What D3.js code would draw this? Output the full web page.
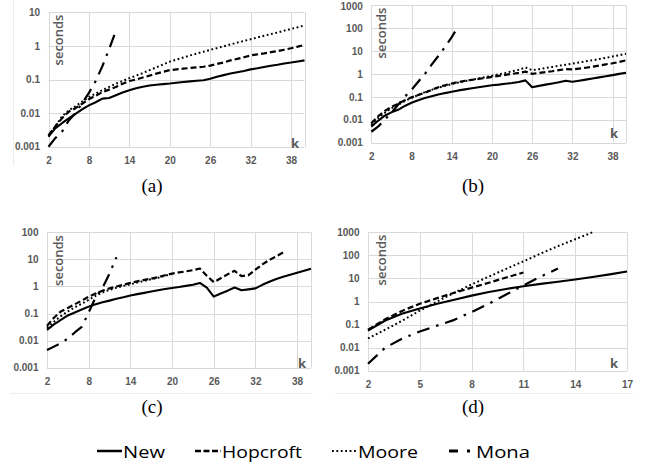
<!DOCTYPE html>
<html><head><meta charset="utf-8">
<script src="https://cdn.jsdelivr.net/npm/d3@7"></script>
<style>body{margin:0;background:#fff}svg{display:block}</style>
</head><body>
<svg id="c" width="646" height="463"></svg>
<script>
// ---------- DATA ----------
const k2to40 = [2,3,4,5,6,7,8,9,10,11,12,13,14,15,16,17,18,19,20,21,22,23,24,25,26,27,28,29,30,31,32,33,34,35,36,37,38,39,40];
const k2to36 = [2,3,4,5,6,7,8,9,10,11,12,13,14,15,16,17,18,19,20,21,22,23,24,25,26,27,28,29,30,31,32,33,34,35,36];
const k2to20 = [2,3,4,5,6,7,8,9,10,11,12,13,14,15,16,17,18,19,20];
const k2to17 = [2,3,4,5,6,7,8,9,10,11,12,13,14,15,16,17];
const k2to15 = [2,3,4,5,6,7,8,9,10,11,12,13,14,15];
const k2to13 = [2,3,4,5,6,7,8,9,10,11,12,13];
const k2to12 = [2,3,4,5,6,7,8,9,10,11,12];
const k2to11 = [2,3,4,5,6,7,8,9,10,11];

// (a)
const aNew   = [0.002,0.0035,0.005,0.007,0.0095,0.013,0.017,0.021,0.027,0.028,0.034,0.041,0.048,0.055,0.061,0.066,0.07,0.073,0.076,0.08,0.084,0.088,0.092,0.095,0.105,0.12,0.135,0.15,0.165,0.18,0.2,0.215,0.235,0.255,0.275,0.3,0.32,0.345,0.37];
const aHop   = [0.0022,0.004,0.007,0.011,0.014,0.019,0.026,0.033,0.042,0.05,0.06,0.075,0.09,0.1,0.115,0.13,0.15,0.17,0.19,0.2,0.21,0.22,0.23,0.24,0.26,0.29,0.32,0.37,0.41,0.46,0.52,0.56,0.6,0.65,0.7,0.77,0.85,0.95,1.08];
const aMoore = [0.002,0.004,0.008,0.012,0.016,0.022,0.03,0.038,0.048,0.06,0.075,0.09,0.11,0.13,0.155,0.19,0.23,0.28,0.34,0.39,0.45,0.52,0.59,0.67,0.76,0.86,0.97,1.1,1.25,1.4,1.58,1.78,2.0,2.25,2.5,2.85,3.2,3.6,4.1];
const aMona  = [0.001,0.0018,0.0028,0.006,0.01,0.02,0.04,0.09,0.25,0.8,2.8];
// (b)
const bNew   = [0.005,0.009,0.015,0.021,0.027,0.04,0.055,0.07,0.088,0.105,0.125,0.145,0.165,0.19,0.21,0.235,0.26,0.29,0.32,0.34,0.37,0.4,0.44,0.52,0.26,0.3,0.34,0.38,0.43,0.5,0.45,0.5,0.56,0.63,0.7,0.78,0.88,1.0,1.12];
const bHop   = [0.007,0.014,0.024,0.036,0.05,0.07,0.095,0.12,0.15,0.2,0.26,0.32,0.38,0.44,0.5,0.55,0.6,0.66,0.74,0.82,0.9,1.0,1.1,1.25,1.0,1.1,1.2,1.3,1.45,1.6,1.55,1.7,1.85,2.05,2.3,2.6,2.9,3.3,3.9];
const bMoore = [0.006,0.012,0.02,0.032,0.045,0.065,0.09,0.12,0.16,0.2,0.25,0.3,0.36,0.42,0.48,0.55,0.63,0.72,0.82,0.95,1.1,1.3,1.5,1.9,1.45,1.6,1.8,2.0,2.25,2.5,2.8,3.1,3.5,3.9,4.4,5.0,5.7,6.5,7.5];
const bMona  = [0.003,0.005,0.01,0.02,0.045,0.1,0.2,0.45,1.0,2.5,6,15,40,120];
// (c)
const cNew   = [0.025,0.04,0.058,0.085,0.11,0.14,0.18,0.22,0.26,0.3,0.35,0.4,0.46,0.52,0.58,0.65,0.72,0.8,0.88,0.95,1.05,1.15,1.35,0.9,0.42,0.55,0.7,0.92,0.72,0.78,0.85,1.15,1.5,1.9,2.3,2.7,3.2,3.8,4.5];
const cHop   = [0.035,0.07,0.12,0.16,0.22,0.3,0.42,0.55,0.7,0.85,1.0,1.15,1.35,1.55,1.75,1.95,2.2,2.6,3.0,3.3,3.6,4.0,4.6,2.5,1.45,2.0,2.8,3.8,2.4,2.6,4.2,6.5,9.5,13,18];
const cMoore = [0.03,0.05,0.08,0.12,0.17,0.23,0.32,0.45,0.6,0.75,0.9,1.05,1.2,1.4,1.6,1.85,2.1,2.5,2.9];
const cMona  = [0.0045,0.006,0.008,0.012,0.02,0.032,0.11,0.4,0.9,3,12];
// (d)
const dNew   = [0.055,0.15,0.3,0.5,0.8,1.2,1.8,2.6,3.5,4.6,5.8,7.2,9,11.5,15,20];
const dHop   = [0.06,0.17,0.4,0.8,1.4,2.4,4,6.5,11,18];
const dMoore = [0.025,0.06,0.15,0.4,1.0,2.4,5.5,12,26,55,120,250,500,1000];
const dMona  = [0.002,0.01,0.025,0.05,0.09,0.16,0.35,0.8,2,5,12,27];

// tick values
const xTicks40 = [2,8,14,20,26,32,38];
const xTicks17 = [2,5,8,11,14,17];
const yTicksA = [0.001,0.01,0.1,1,10];
const yTicksB = [0.001,0.01,0.1,1,10,100,1000];
const yTicksC = [0.001,0.01,0.1,1,10,100];
const yTicksD = [0.001,0.01,0.1,1,10,100,1000];

const seriesNames = ["New","Hopcroft","Moore","Mona"];
const captions = ["(a)","(b)","(c)","(d)"];

// ---------- STYLE ----------
const styles = {
  New:      {dash:null,            w:2.1},
  Hopcroft: {dash:"6,3",           w:2.2},
  Moore:    {dash:"1.8,2.6",       w:2.0},
  Mona:     {dash:"13,7,2.5,7",    w:2.2}
};
const GRID = "#d9d9d9", TXT = "#595959";

const panels = [
  {left:48.5, right:304.5, top:12.3, bottom:146.7, xDom:[2,40], yDom:[0.001,10], xTicks:xTicks40, yTicks:yTicksA,
   series:[[k2to40,aNew],[k2to40,aHop],[k2to40,aMoore],[k2to12,aMona]],
   sec:[63,40], kl:[295,148], cap:[152,191.5]},
  {left:371.3, right:626, top:5, bottom:142.7, xDom:[2,40], yDom:[0.001,1000], xTicks:xTicks40, yTicks:yTicksB,
   series:[[k2to40,bNew],[k2to40,bHop],[k2to40,bMoore],[k2to15,bMona]],
   sec:[386,33], kl:[614,138.3], cap:[473,191.5]},
  {left:47, right:311, top:232.3, bottom:367.7, xDom:[2,40], yDom:[0.001,100], xTicks:xTicks40, yTicks:yTicksC,
   series:[[k2to40,cNew],[k2to36,cHop],[k2to20,cMoore],[k2to12,cMona]],
   sec:[63.3,260.5], kl:[302,367.7], cap:[152,413]},
  {left:368, right:627, top:232.3, bottom:370.7, xDom:[2,17], yDom:[0.001,1000], xTicks:xTicks17, yTicks:yTicksD,
   series:[[k2to17,dNew],[k2to11,dHop],[k2to15,dMoore],[k2to13,dMona]],
   sec:[386,260], kl:[614,367.7], cap:[473,413]}
];

const svg = d3.select("#c");

// faint chart-area borders
svg.append("line").attr("x1",13.5).attr("x2",13.5).attr("y1",0).attr("y2",166).attr("stroke","#ececec");
svg.append("line").attr("x1",10).attr("x2",312).attr("y1",393.5).attr("y2",393.5).attr("stroke","#ececec");
svg.append("line").attr("x1",335).attr("x2",633).attr("y1",393.5).attr("y2",393.5).attr("stroke","#ececec");

panels.forEach((p,pi) => {
  const x = d3.scaleLinear().domain(p.xDom).range([p.left,p.right]);
  const y = d3.scaleLog().domain(p.yDom).range([p.bottom,p.top]);
  const g = svg.append("g");

  g.selectAll(".hg").data(p.yTicks).join("line")
    .attr("x1",p.left).attr("x2",p.right)
    .attr("y1",d=>Math.round(y(d))+0.5).attr("y2",d=>Math.round(y(d))+0.5)
    .attr("stroke",GRID).attr("stroke-width",1);
  const vx = p.xTicks.slice(1);
  if (vx[vx.length-1] !== p.xDom[1]) vx.push(p.xDom[1]);
  g.selectAll(".vg").data(vx).join("line")
    .attr("x1",d=>Math.round(x(d))+0.5).attr("x2",d=>Math.round(x(d))+0.5)
    .attr("y1",p.top).attr("y2",p.bottom)
    .attr("stroke",GRID).attr("stroke-width",1);
  g.append("line").attr("x1",Math.round(p.left)+0.5).attr("x2",Math.round(p.left)+0.5)
    .attr("y1",p.top).attr("y2",p.bottom).attr("stroke",GRID);

  const ya = g.append("g").attr("transform",`translate(${p.left},0)`)
    .call(d3.axisLeft(y).tickValues(p.yTicks).tickFormat(d=>String(d)).tickSize(0).tickPadding(8.5));
  const xa = g.append("g").attr("transform",`translate(0,${p.bottom})`)
    .call(d3.axisBottom(x).tickValues(p.xTicks).tickFormat(d=>String(d)).tickSize(0).tickPadding(10));
  [ya,xa].forEach(a=>{
    a.select(".domain").remove();
    a.selectAll("text").attr("fill",TXT).style("font-family","'Liberation Sans', Arial, sans-serif")
      .style("font-weight","bold").style("font-size","10px");
  });
  // keep top-most label inside the picture
  ya.selectAll(".tick").filter(d=>y(d)<10).select("text").attr("dy","0.42em");

  g.append("text").attr("transform",`translate(${p.sec[0]},${p.sec[1]}) rotate(-90)`)
    .attr("text-anchor","middle").attr("fill",TXT)
    .style("font-family","'Open Sans', sans-serif").style("font-size","13px").style("font-weight","600")
    .text("seconds");
  g.append("text").attr("x",p.kl[0]).attr("y",p.kl[1]).attr("text-anchor","middle").attr("fill",TXT)
    .style("font-family","'Open Sans', sans-serif").style("font-size","13px").style("font-weight","bold")
    .text("k");

  const line = d3.line().x(d=>x(d[0])).y(d=>y(d[1]));
  p.series.forEach((s,si) => {
    const st = styles[seriesNames[si]];
    g.append("path").datum(d3.zip(s[0],s[1]))
      .attr("d",line).attr("fill","none").attr("stroke","#000")
      .attr("stroke-width",st.w).attr("stroke-linejoin","round")
      .attr("stroke-dasharray",st.dash);
  });

  svg.append("text").attr("x",p.cap[0]).attr("y",p.cap[1]).attr("text-anchor","middle")
    .style("font-family","'Liberation Serif','Times New Roman',serif").style("font-size","19px")
    .text(captions[pi]);
});

// legend
const legend = [
  {x1:97, x2:122, tx:123, tl:42, dash:null, w:2.5},
  {x1:195, x2:221, tx:222, tl:80, dash:"6,2.5", w:2.5},
  {x1:332, x2:357, tx:358, tl:60, dash:"1.8,2.6", w:2.2},
  {x1:449, x2:472, tx:476, tl:54, dash:"9,9,3,20", w:2.8}
];
legend.forEach((l,i)=>{
  svg.append("line").attr("x1",l.x1).attr("x2",l.x2).attr("y1",451).attr("y2",451)
    .attr("stroke","#000").attr("stroke-width",l.w).attr("stroke-dasharray",l.dash);
  svg.append("text").attr("x",l.tx).attr("y",457.5)
    .attr("textLength",l.tl).attr("lengthAdjust","spacingAndGlyphs")
    .style("font-family","'Open Sans', sans-serif").style("font-size","17px")
    .text(seriesNames[i]);
});
</script>
</body></html>
